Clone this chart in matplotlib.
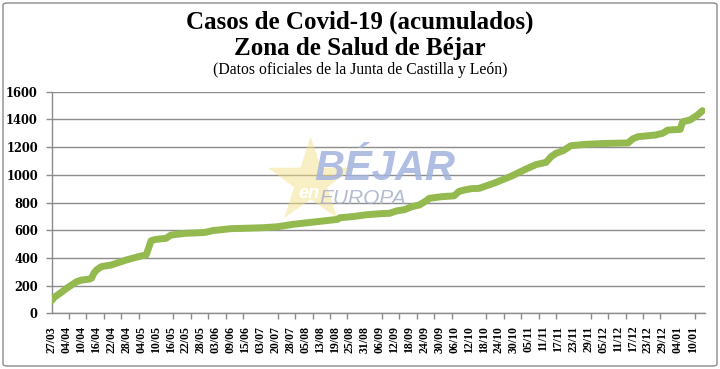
import numpy as np
import matplotlib
matplotlib.use("Agg")
import matplotlib.pyplot as plt
from matplotlib.patches import Polygon, FancyBboxPatch
from matplotlib.ticker import FixedLocator, FixedFormatter

# ---------------- data ----------------
n_reports = 264  # number of report dates on the category axis
tick_labels = ["27/03", "04/04", "10/04", "16/04", "22/04", "28/04", "04/05", "10/05",
               "16/05", "22/05", "28/05", "03/06", "09/06", "15/06", "03/07", "20/07",
               "28/07", "05/08", "13/08", "19/08", "25/08", "31/08", "06/09", "12/09",
               "18/09", "24/09", "30/09", "06/10", "12/10", "18/10", "24/10", "30/10",
               "05/11", "11/11", "17/11", "23/11", "29/11", "05/12", "11/12", "17/12",
               "23/12", "29/12", "04/01", "10/01"]
label_step = 6   # one label every 6 report dates
mark_step = 7    # one tick mark every 7 report dates

# report index (position on the category axis) and accumulated cases
report_idx = [0, 1, 3, 6, 10, 12, 15, 16, 17, 18, 20, 24, 30, 36, 38, 39, 40, 42, 46,
              48, 54, 60, 62, 65, 67, 72, 78, 85, 91, 97, 103, 109, 115, 116, 121, 127,
              133, 136, 139, 142, 145, 148, 151, 152, 157, 162, 164, 166, 169, 172, 178,
              185, 191, 195, 199, 201, 203, 206, 209, 215, 222, 232, 234, 236, 243, 246,
              248, 253, 254, 257, 260, 262]
cases = [92, 115, 140, 180, 228, 240, 246, 253, 290, 312, 337, 349, 385, 414, 421, 470,
         524, 534, 541, 565, 578, 582, 585, 598, 601, 611, 614, 618, 625, 642, 654, 666,
         678, 690, 698, 712, 720, 722, 740, 748, 770, 782, 815, 830, 842, 848, 880, 890,
         900, 902, 939, 990, 1042, 1074, 1090, 1130, 1155, 1175, 1210, 1220, 1226, 1230,
         1260, 1275, 1287, 1300, 1323, 1328, 1383, 1396, 1432, 1463]

y_ticks = [0, 200, 400, 600, 800, 1000, 1200, 1400, 1600]

title1 = "Casos de Covid-19 (acumulados)"
title2 = "Zona de Salud de Béjar"
subtitle = "(Datos oficiales de la Junta de Castilla y León)"

# ---------------- styles ----------------
W, H = 720, 369
GREEN = "#93b94f"
GRID = "#8c8c8c"

fig = plt.figure(figsize=(W / 100, H / 100), dpi=100)
fig.patch.set_facecolor("white")

def fx(px):
    return px / W

def fy(py):
    return 1 - py / H

# chart border
border = FancyBboxPatch((fx(3), fy(366)), fx(714), 363 / H,
                        boxstyle="round,pad=0,rounding_size=0.006",
                        transform=fig.transFigure, facecolor="none",
                        edgecolor="#8a8a8a", linewidth=1.0)
fig.patches.append(border)

ax = fig.add_axes([fx(51.7), fy(313.3), fx(705) - fx(51.7), fy(91.7) - fy(313.3)])
ax.set_facecolor("none")

# titles
fig.text(0.5, fy(22), title1, ha="center", va="center",
         family="Liberation Serif", weight="bold", fontsize=18)
fig.text(0.5, fy(49), title2, ha="center", va="center",
         family="Liberation Serif", weight="bold", fontsize=18)
fig.text(0.5, fy(70), subtitle, ha="center", va="center",
         family="Liberation Serif", fontsize=11.3)

# watermark (logo)
cx, cy, R, r = 310.7, 181.7, 45, 17.5
pts = []
for k in range(10):
    ang = np.deg2rad(90 + 36 * k)
    rad = R if k % 2 == 0 else r
    pts.append((fx(cx + rad * np.cos(ang)), fy(cy - rad * np.sin(ang))))
ax.add_patch(Polygon(pts, closed=True, transform=fig.transFigure,
                     facecolor="#f5e08a", edgecolor="none", alpha=0.5, zorder=1.5))
ax.text(fx(385), fy(169), "BÉJAR", transform=fig.transFigure, ha="center", va="center",
        family="Liberation Sans", weight="bold", style="italic", fontsize=30,
        color="#a3b3df", alpha=0.85, zorder=1.6)
ax.text(fx(363), fy(198), "EUROPA", transform=fig.transFigure, ha="center", va="center",
        family="Liberation Sans", style="italic", fontsize=15,
        color="#a7b0ca", alpha=0.85, zorder=1.6)
ax.text(fx(309), fy(194), "en", transform=fig.transFigure, ha="center", va="center",
        family="Liberation Sans", weight="bold", style="italic", fontsize=13,
        color="white", zorder=1.7)

# line
ax.plot(report_idx, cases, color=GREEN, linewidth=5.0, solid_capstyle="round",
        solid_joinstyle="round", zorder=3)

# axes
ax.set_xlim(0, n_reports - 1)
ax.set_ylim(0, 1600)
for sp in ["top", "right"]:
    ax.spines[sp].set_visible(False)
for sp in ["left", "bottom"]:
    ax.spines[sp].set_color(GRID)
    ax.spines[sp].set_linewidth(1.0)

ax.set_yticks(y_ticks)
ax.set_yticklabels([str(v) for v in y_ticks], family="DejaVu Serif", weight="bold",
                   fontsize=8.3)
ax.tick_params(axis="y", length=4, color=GRID, width=1, pad=6)
ax.yaxis.grid(True, color=GRID, linewidth=1.0, zorder=1)
ax.set_axisbelow(True)

label_pos = [i * label_step for i in range(len(tick_labels))]
ax.xaxis.set_major_locator(FixedLocator(label_pos))
ax.xaxis.set_major_formatter(FixedFormatter(tick_labels))
ax.xaxis.set_minor_locator(FixedLocator(list(range(0, n_reports, mark_step))))
ax.tick_params(axis="x", which="major", length=0, pad=9)
ax.tick_params(axis="x", which="minor", length=4, color=GRID, width=1)
for lab in ax.get_xticklabels():
    lab.set_family("Liberation Serif")
    lab.set_weight("bold")
    lab.set_fontsize(8.5)
    lab.set_rotation(90)
    lab.set_ha("center")
    lab.set_va("top")

fig.savefig("out.png", dpi=100, facecolor="white")
